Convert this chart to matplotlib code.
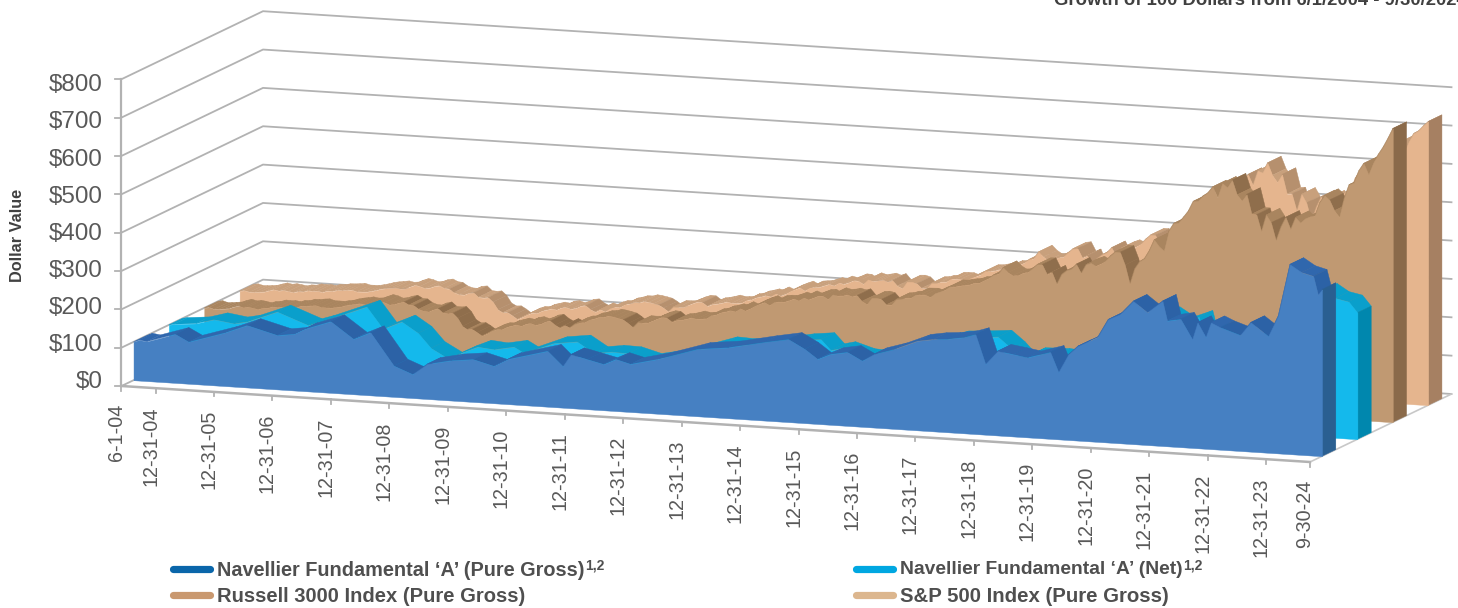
import numpy as np
import matplotlib
matplotlib.use("Agg")
import matplotlib.pyplot as plt
from matplotlib.transforms import Affine2D

plt.rcParams['font.family'] = ['Liberation Sans', 'DejaVu Sans']

# ---------- data ----------
title = "Growth of 100 Dollars from 6/1/2004 - 9/30/2024"
y_ticks = [0, 100, 200, 300, 400, 500, 600, 700, 800]
tick_labels = ['6-1-04', '12-31-04', '12-31-05', '12-31-06', '12-31-07', '12-31-08', '12-31-09',
               '12-31-10', '12-31-11', '12-31-12', '12-31-13', '12-31-14', '12-31-15', '12-31-16',
               '12-31-17', '12-31-18', '12-31-19', '12-31-20', '12-31-21', '12-31-22', '12-31-23', '9-30-24']
tick_dates = [2004.417, 2005, 2006, 2007, 2008, 2009, 2010, 2011, 2012, 2013, 2014, 2015, 2016, 2017,
              2018, 2019, 2020, 2021, 2022, 2023, 2024, 2024.75]

gross_dates = [2004.417, 2004.51, 2004.64, 2005.13, 2005.36, 2005.96, 2006.36, 2006.88, 2007.16, 2007.33, 2007.79,
               2008.18, 2008.47, 2008.87, 2009.19, 2009.44, 2009.84, 2010.23, 2010.58, 2010.82, 2011.5, 2011.76,
               2011.9, 2012.18, 2012.46, 2012.67, 2012.92, 2013.38, 2014.06, 2014.58, 2015.2, 2015.62, 2015.9,
               2016.12, 2016.34, 2016.63, 2016.88, 2017.08, 2017.42, 2017.83, 2018.1, 2018.34, 2018.62, 2018.82,
               2018.99, 2019.2, 2019.47, 2019.71, 2020.1, 2020.24, 2020.41, 2020.57, 2020.91, 2021.09, 2021.3,
               2021.52, 2021.76, 2022.02, 2022.1, 2022.33, 2022.53, 2022.62, 2022.76, 2022.85, 2023.01, 2023.35,
               2023.53, 2023.83, 2024.0, 2024.2, 2024.4, 2024.6, 2024.68, 2024.75]
fund_gross = [100, 106, 103, 127, 109, 138, 162, 141, 147, 161, 186,
              144, 164, 81, 62, 91, 104, 111, 97, 117, 145, 108,
              140, 130, 120, 135, 125, 142, 175, 184, 204, 216, 193,
              169, 184, 192, 172, 191, 207, 233, 240, 243, 250, 260,
              184, 220, 214, 208, 226, 175, 223, 246, 273, 321, 337,
              373, 346, 378, 327, 334, 283, 328, 291, 330, 319, 302,
              337, 304, 359, 495, 476, 468, 420, 435]

net_dates = [2004.417, 2004.5, 2004.88, 2005.19, 2005.53, 2005.75, 2006.27, 2006.8, 2007.02, 2007.8, 2008.08, 2008.4,
             2008.68, 2008.9, 2009.2, 2009.47, 2009.7, 2009.98, 2010.32, 2010.5, 2011.0, 2011.4, 2011.69, 2011.98,
             2012.27, 2012.61, 2013.0, 2013.47, 2013.91, 2014.2, 2014.55, 2015.23, 2015.57, 2015.74, 2015.93,
             2016.26, 2016.48, 2016.96, 2017.24, 2017.87, 2018.1, 2018.6, 2018.83, 2019.0, 2019.18, 2019.6, 2019.81,
             2020.1, 2020.27, 2020.56, 2020.9, 2021.09, 2021.48, 2021.73, 2022.04, 2022.1, 2022.44, 2022.53, 2022.7,
             2022.96, 2023.35, 2023.57, 2023.83, 2023.98, 2024.17, 2024.37, 2024.6, 2024.75]
fund_net = [100, 102.5, 108, 121.5, 114, 121, 152, 122, 133, 180, 125, 147,
            120, 83, 58, 79, 94, 90, 100, 85, 116, 124, 97, 103,
            102, 88, 100, 122, 144, 142, 145, 165, 171, 144, 151,
            136, 134, 145, 165, 198, 200, 207, 179, 152, 167, 169, 166,
            183, 142, 195, 214, 261, 296, 273, 292, 257, 263, 222, 229,
            244, 236, 263, 238, 274, 383, 364, 357, 330]

russell = [100, 102.2, 98.2, 99.0, 100.6, 102.2, 107.3, 110.8,
           107.4, 109.6, 107.6, 105.1, 109.1, 110.3, 114.6, 113.7, 114.8, 112.7, 116.9, 117.4,
           121.6, 121.7, 123.7, 124.9, 120.9, 121.0, 120.9, 123.5, 125.6, 129.9, 132.7, 134.8,
           137.4, 135.2, 136.3, 141.6, 146.7, 144.1, 139.0, 141.0, 145.8, 148.8, 141.9, 141.1,
           132.4, 128.2, 127.4, 133.7, 137.2, 126.6, 125.8, 127.7, 115.6, 95.2, 87.6, 89.0,
           81.7, 73.2, 79.7, 88.2, 92.8, 93.0, 100.3, 104.1, 108.2, 105.5, 111.6, 114.2,
           110.1, 113.9, 121.0, 123.7, 113.9, 107.2, 114.8, 109.3, 119.4, 124.2, 125.0, 133.5,
           136.5, 141.5, 142.5, 146.6, 144.6, 141.9, 138.9, 130.6, 120.6, 134.7, 134.2, 135.0,
           141.2, 147.4, 151.7, 150.6, 141.1, 146.6, 148.0, 151.6, 155.7, 152.9, 154.0, 155.7,
           165.4, 167.5, 173.9, 176.8, 181.0, 178.8, 188.2, 182.7, 189.1, 197.2, 203.0, 208.0,
           201.0, 210.5, 211.7, 212.0, 216.6, 222.1, 217.9, 226.8, 222.1, 227.6, 233.3, 234.1,
           226.8, 239.9, 236.8, 238.0, 241.4, 237.7, 241.3, 226.9, 219.9, 237.2, 238.3, 235.2,
           221.9, 221.9, 237.4, 238.9, 243.2, 243.6, 253.1, 253.6, 254.2, 249.0, 260.0, 265.1,
           270.0, 279.9, 280.1, 283.2, 285.6, 287.8, 293.0, 294.0, 301.6, 308.2, 317.6, 321.2,
           338.5, 326.1, 319.0, 320.2, 327.7, 329.9, 340.9, 352.2, 352.9, 327.9, 334.6, 303.9,
           330.4, 341.2, 345.9, 359.4, 336.5, 359.9, 365.0, 358.1, 364.4, 373.1, 386.7, 398.2,
           397.8, 365.2, 316.0, 357.5, 376.8, 385.6, 407.4, 436.0, 419.6, 408.9, 461.0, 482.0,
           484.3, 499.8, 516.7, 542.7, 545.0, 558.3, 567.4, 583.8, 557.7, 595.0, 584.8, 604.7,
           567.0, 552.4, 569.9, 519.0, 518.7, 475.3, 519.3, 500.0, 453.5, 490.6, 516.7, 486.0,
           517.7, 505.0, 517.0, 523.0, 526.0, 561.0, 580.0, 569.0, 542.0, 526.0, 576.0, 612.0,
           618.0, 650.0, 670.0, 642.0, 674.0, 696.0, 716.0, 740.0, 766.0]

sp500 = [100, 101.9, 98.5, 98.9, 100.0, 101.5, 105.6, 109.2,
         106.6, 108.8, 106.9, 104.8, 108.2, 108.3, 112.3, 111.3, 112.2, 110.3, 114.5, 114.5,
         117.6, 118.0, 119.4, 121.0, 117.5, 117.6, 118.3, 121.1, 124.3, 128.4, 130.8, 132.7,
         134.7, 132.0, 133.4, 139.3, 144.2, 141.8, 137.4, 139.4, 144.6, 146.9, 140.8, 139.8,
         131.4, 127.2, 126.7, 132.9, 134.6, 123.3, 122.3, 124.1, 113.1, 94.1, 87.3, 88.3,
         80.9, 72.2, 78.6, 86.1, 91.0, 91.1, 98.1, 101.6, 105.4, 103.4, 109.6, 111.6,
         107.6, 111.0, 117.6, 119.5, 110.0, 104.2, 111.5, 106.5, 116.0, 120.4, 120.4, 128.4,
         131.5, 136.0, 136.0, 140.0, 138.5, 136.2, 133.4, 126.2, 117.4, 130.2, 129.9, 131.2,
         137.1, 143.0, 147.7, 146.9, 138.0, 143.7, 145.7, 149.0, 152.9, 150.0, 150.9, 152.2,
         160.1, 162.4, 168.5, 171.7, 175.7, 173.4, 182.3, 177.0, 182.5, 190.9, 196.6, 201.5,
         194.5, 203.4, 205.0, 206.5, 211.2, 215.7, 212.7, 221.2, 218.1, 223.3, 229.4, 228.8,
         221.9, 234.6, 230.8, 233.1, 236.2, 231.7, 236.6, 222.4, 216.8, 235.0, 235.7, 232.0,
         220.4, 220.2, 235.2, 236.1, 240.4, 241.1, 250.0, 250.3, 250.3, 245.8, 254.9, 260.0,
         264.9, 275.5, 275.8, 278.6, 282.5, 284.2, 290.2, 291.0, 297.1, 303.9, 313.4, 316.8,
         334.9, 322.5, 314.4, 315.7, 323.3, 325.2, 337.3, 348.4, 350.5, 326.7, 333.2, 303.2,
         327.5, 338.0, 344.4, 358.2, 335.3, 358.8, 363.8, 358.0, 364.8, 372.8, 386.2, 397.8,
         397.8, 365.2, 319.9, 360.8, 378.1, 385.7, 407.3, 436.6, 420.0, 408.7, 453.2, 470.4,
         465.7, 478.7, 499.8, 526.3, 530.0, 542.2, 555.2, 571.9, 545.0, 583.1, 579.0, 605.1,
         573.6, 556.4, 577.5, 527.3, 528.4, 484.5, 529.1, 507.4, 460.7, 498.0, 525.9, 495.4,
         526.6, 514.0, 533.0, 541.5, 544.2, 580.1, 599.3, 589.7, 561.4, 549.6, 599.6, 626.6,
         630.0, 660.0, 680.0, 652.0, 684.0, 706.0, 714.0, 728.0, 740.0]

month_dates = np.concatenate(([2004.417], 2004.5 + np.arange(len(sp500) - 1) / 12))

legend_labels = ["Navellier Fundamental \u2018A\u2019 (Pure Gross)", "Navellier Fundamental \u2018A\u2019 (Net)",
                 "Russell 3000 Index (Pure Gross)", "S&P 500 Index (Pure Gross)"]

# ---------- oblique projection: (date, value, depth) -> canvas pixels ----------
T0, T1 = 2004.417, 2024.75
ORIGIN = (121.5, 386.0)
RUN = (1188.5, 76.0)      # along the date axis
DEEP = (141.5, -68.0)     # along the depth axis
PX_PER_DOLLAR = 0.3835


def project(date, value, depth=0.0):
    u = (np.asarray(date, float) - T0) / (T1 - T0)
    v = np.asarray(value, float)
    d = np.asarray(depth, float)
    x = ORIGIN[0] + RUN[0] * u + DEEP[0] * d
    y = ORIGIN[1] + RUN[1] * u + DEEP[1] * d - PX_PER_DOLLAR * v
    return x, y


def depth_transform(depth, ax):
    """Affine from (date, value) at a fixed depth to canvas pixels."""
    a = RUN[0] / (T1 - T0)
    d = RUN[1] / (T1 - T0)
    m = np.array([[a, 0, ORIGIN[0] + DEEP[0] * depth - a * T0],
                  [d, -PX_PER_DOLLAR, ORIGIN[1] + DEEP[1] * depth - d * T0],
                  [0, 0, 1]])
    return Affine2D(m) + ax.transData


fig = plt.figure(figsize=(14.58, 6.08), dpi=100)
ax = fig.add_axes([0, 0, 1, 1])
ax.set_xlim(0, 1458)
ax.set_ylim(608, 0)
ax.axis('off')

GRID = '#b2b2b2'
TXT = '#595959'

# gridlines on left and back walls
for val in y_ticks:
    x0, y0 = project(T0, val, 0)
    x1, y1 = project(T0, val, 1)
    x2, y2 = project(T1, val, 1)
    ax.plot([x0, x1, x2], [y0, y1, y2], color=GRID, lw=1.3, zorder=1, solid_joinstyle='miter')
    ax.plot([x0 - 6, x0], [y0, y0], color=GRID, lw=1.3, zorder=1)
    # the printed labels run on a slightly tighter pitch than the gridlines
    ax.text(x0 - 19, 382.5 - val * 0.3715, f"${val}", ha='right', va='center', fontsize=17.4, color=TXT, zorder=9)
xa, ya = project([T0, T0], [0, y_ticks[-1]], 0)
ax.plot(xa, ya, color=GRID, lw=1.6, zorder=1)

# floor edges
xf, yf = project([T0, T1], [0, 0], 0)
ax.plot(xf, yf, color=GRID, lw=1.8, zorder=1)
xr, yr = project([T1, T1], [0, 0], [0, 1])
ax.plot(xr, yr, color='#c8c8c8', lw=1.2, zorder=1)

# date ticks and labels
for lab, dt in zip(tick_labels, tick_dates):
    xt, yt = project(dt, 0, 0)
    ax.plot([xt, xt], [yt, yt + 4.5], color=GRID, lw=1.3, zorder=1)
    ax.text(xt - 5, yt + 18, lab, rotation=90, ha='center', va='top', fontsize=14.2, color=TXT, zorder=9)

# series, back to front: (dates, values, depth, front, rising top, falling top, side)
LAYER_DEPTH = 0.0975
SHARP_FALL = 0.045   # only marked falls take the darker top shade
layers = [
    (month_dates, sp500, 0.835, '#e5b58e', '#c8a07c', '#b6906e', '#a68062'),
    (month_dates, russell, 0.585, '#c09972', '#a9855f', '#8f6e4c', '#8a6a4a'),
    (np.array(net_dates), fund_net, 0.335, '#14b9ec', '#0a9fcb', '#0a9fcb', '#0087ae'),
    (np.array(gross_dates), fund_gross, 0.085, '#4680c2', '#3067ad', '#2c62a6', '#2a5f91'),
]
z = 2
for dates, values, dep, c_front, c_up, c_down, c_side in layers:
    values = np.asarray(values, float)
    xf_, yf_ = project(dates, values, dep)
    xb_, yb_ = project(dates, values, dep + LAYER_DEPTH)
    for i in range(len(dates) - 1):
        col = c_down if values[i + 1] < values[i] * (1 - SHARP_FALL) else c_up
        ax.fill([xf_[i], xf_[i + 1], xb_[i + 1], xb_[i]], [yf_[i], yf_[i + 1], yb_[i + 1], yb_[i]],
                facecolor=col, edgecolor=col, lw=0.3, zorder=z)
    # right end face
    xs0, ys0 = project(dates[-1], 0, dep)
    xs1, ys1 = project(dates[-1], 0, dep + LAYER_DEPTH)
    ax.fill([xs0, xs1, xb_[-1], xf_[-1]], [ys0, ys1, yb_[-1], yf_[-1]],
            facecolor=c_side, edgecolor=c_side, lw=0.3, zorder=z + 0.1)
    # front face
    ax.fill_between(dates, 0, values, transform=depth_transform(dep, ax),
                    facecolor=c_front, edgecolor=c_front, lw=0.3, zorder=z + 0.2)
    z += 1

# axis title and chart title
ax.text(18, 235, "Dollar Value", rotation=90, ha='center', va='center', fontsize=11.7,
        fontweight='bold', color='#404040')
ax.text(1054, 5, title, ha='left', va='baseline', fontsize=13.3, fontweight='bold', color='#404040')

# legend
LEG_COLORS = ['#0a66aa', '#00a7e1', '#c9986f', '#dcb68e']
LEG_POS = [(170, 569), (853, 569), (170, 595), (853, 595)]
LEG_SIZES = [14.3, 13.9, 14.5, 14.7]
SUP = [True, True, False, False]
for lab, col, (lx, ly), fs, sup in zip(legend_labels, LEG_COLORS, LEG_POS, LEG_SIZES, SUP):
    ax.plot([lx + 3, lx + 40], [ly, ly], color=col, lw=5.2, solid_capstyle='round', zorder=5)
    t = ax.text(lx + 47, ly + 1, lab, ha='left', va='center', fontsize=fs, fontweight='bold', color='#4f4f4f')
    if sup:
        fig.canvas.draw()
        bb = t.get_window_extent()
        ax.text(bb.x1 + 1, ly - 3, "1,2", ha='left', va='center', fontsize=10, fontweight='bold', color='#4f4f4f')

fig.savefig('out.png', dpi=100)
